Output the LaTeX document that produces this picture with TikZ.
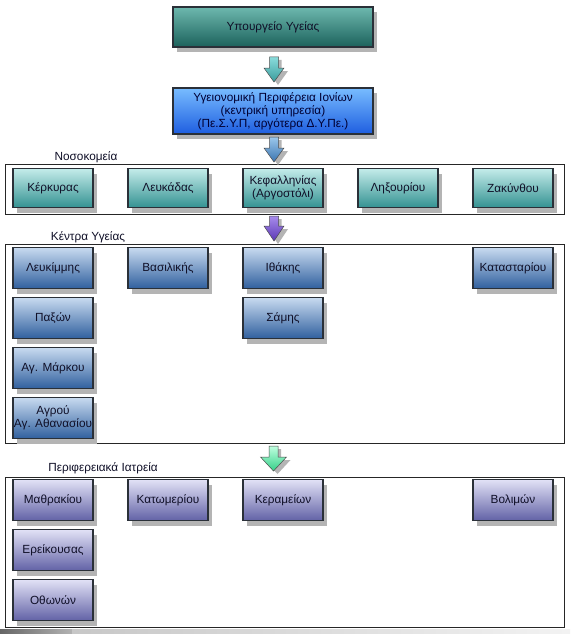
\documentclass[tikz,border=0pt]{standalone}
\usepackage{fontspec}
\setmainfont{Liberation Sans}
\usetikzlibrary{shadows}
\definecolor{boxline}{HTML}{2A3038}
\definecolor{shadowgray}{HTML}{B4B4B4}
\definecolor{txt}{HTML}{101028}
\definecolor{minTop}{HTML}{6DB8AE}
\definecolor{minBot}{HTML}{1C625C}
\definecolor{regTop}{HTML}{78BCFF}
\definecolor{regBot}{HTML}{1E5EE0}
\definecolor{hosTop}{HTML}{C4ECEA}
\definecolor{hosBot}{HTML}{349292}
\definecolor{kyTop}{HTML}{C8DAF0}
\definecolor{kyBot}{HTML}{30609E}
\definecolor{peTop}{HTML}{E2E2F6}
\definecolor{peBot}{HTML}{6262A6}
\definecolor{arTealTop}{HTML}{8ADCDC}
\definecolor{arTealBot}{HTML}{3A9C9C}
\definecolor{arBlueTop}{HTML}{9CC8EC}
\definecolor{arBlueBot}{HTML}{3A74B0}
\definecolor{arPurTop}{HTML}{A88CEC}
\definecolor{arPurBot}{HTML}{5A36B4}
\definecolor{arGreenTop}{HTML}{C0FFE0}
\definecolor{arGreenBot}{HTML}{34D088}
\tikzset{
  box/.style={draw=boxline, line width=1.3pt, minimum width=80pt, minimum height=40pt,
    inner sep=1pt, align=center, font=\fontsize{11.8}{13}\selectfont, text=txt,
    general shadow={fill=shadowgray, shadow xshift=4pt, shadow yshift=-5pt}},
  topbox/.style={box, minimum width=200pt, top color=minTop, bottom color=minBot},
  regbox/.style={box, minimum width=200pt, minimum height=46pt, top color=regTop, bottom color=regBot, text=black!80!blue},
  hosbox/.style={box, minimum height=39pt, top color=hosTop, bottom color=hosBot},
  kybox/.style={box, minimum height=41pt, top color=kyTop, bottom color=kyBot},
  pebox/.style={box, minimum height=41pt, top color=peTop, bottom color=peBot},
  frame/.style={draw=black!85, line width=0.8pt, minimum width=559pt, inner sep=0pt},
  grouplabel/.style={font=\fontsize{11.8}{13}\selectfont, text=txt, inner sep=0pt},
  arrowline/.style={draw=black!70, line width=0.5pt},
}
% #1 top centre, #2 length, #3 head start, #4 head half width, #5 top colour, #6 bottom colour
\newcommand{\blockarrow}[6]{%
  \begin{scope}[shift={#1}]
    \fill[shadowgray] (3.5,3) -- (7.5,3) -- (7.5,#3+3) -- (#4+4,#3+3) -- (4,#2+3) -- (-#4+4,#3+3) -- (-0.5,#3+3) -- cycle;
    \path[arrowline, top color=#5, bottom color=#6]
      (-4.5,0) -- (4.5,0) -- (4.5,#3) -- (#4,#3) -- (0,#2) -- (-#4,#3) -- (-4.5,#3) -- cycle;
  \end{scope}}
\begin{document}
\begin{tikzpicture}[x=1pt, y=-1pt]
\useasboundingbox (0,0) rectangle (570,634);
\fill[white] (0,0) rectangle (570,634);

% bottom bar
\path[left color=black!60, right color=black!30] (0,629) rectangle (72,634);
\path[left color=black!22, right color=black!5] (72,629) rectangle (570,634);

% top levels
\node[topbox] (min) at (273,27) {Υπουργείο Υγείας};
\node[regbox] (reg) at (273,111) {Υγειονομική Περιφέρεια Ιονίων\\(κεντρική υπηρεσία)\\(Πε.Σ.Υ.Π, αργότερα Δ.Υ.Πε.)};

% frames
\node[frame, minimum height=50pt] (fhos) at (284.5,189) {};
\node[frame, minimum height=199pt] (fky) at (284.5,343.5) {};
\node[frame, minimum height=150pt] (fpe) at (284.5,552) {};

\node[grouplabel] (lhos) at (86,157) {Νοσοκομεία};
\node[grouplabel] (lky) at (88,237) {Κέντρα Υγείας};
\node[grouplabel] (lpe) at (103,468) {Περιφερειακά Ιατρεία};

% hospitals
\node[hosbox] (h1) at (53,188) {Κέρκυρας};
\node[hosbox] (h2) at (168,188) {Λευκάδας};
\node[hosbox] (h3) at (283,188) {Κεφαλληνίας\\(Αργοστόλι)};
\node[hosbox] (h4) at (398,188) {Ληξουρίου};
\node[hosbox] (h5) at (513,188) {Ζακύνθου};

% health centres
\node[kybox] (k1) at (53,268) {Λευκίμμης};
\node[kybox] (k2) at (53,318) {Παξών};
\node[kybox] (k3) at (53,368) {Αγ. Μάρκου};
\node[kybox] (k4) at (53,418) {Αγρού\\Αγ. Αθανασίου};
\node[kybox] (k5) at (168,268) {Βασιλικής};
\node[kybox] (k6) at (283,268) {Ιθάκης};
\node[kybox] (k7) at (283,318) {Σάμης};
\node[kybox] (k8) at (513,268) {Κατασταρίου};

% regional surgeries
\node[pebox] (p1) at (53,500) {Μαθρακίου};
\node[pebox] (p2) at (53,550) {Ερείκουσας};
\node[pebox] (p3) at (53,600) {Οθωνών};
\node[pebox] (p4) at (168,500) {Κατωμερίου};
\node[pebox] (p5) at (283,500) {Κεραμείων};
\node[pebox] (p6) at (513,500) {Βολιμών};

% block arrows
\coordinate (a1) at (274,57);
\coordinate (a2) at (274,137);
\coordinate (a3) at (274,216);
\coordinate (a4) at (273.5,446);
\blockarrow{(a1)}{25}{11}{10}{arTealTop}{arTealBot}
\blockarrow{(a2)}{25}{11}{10}{arBlueTop}{arBlueBot}
\blockarrow{(a3)}{25}{10}{10}{arPurTop}{arPurBot}
\blockarrow{(a4)}{25}{11}{13}{arGreenTop}{arGreenBot}
\end{tikzpicture}
\end{document}
